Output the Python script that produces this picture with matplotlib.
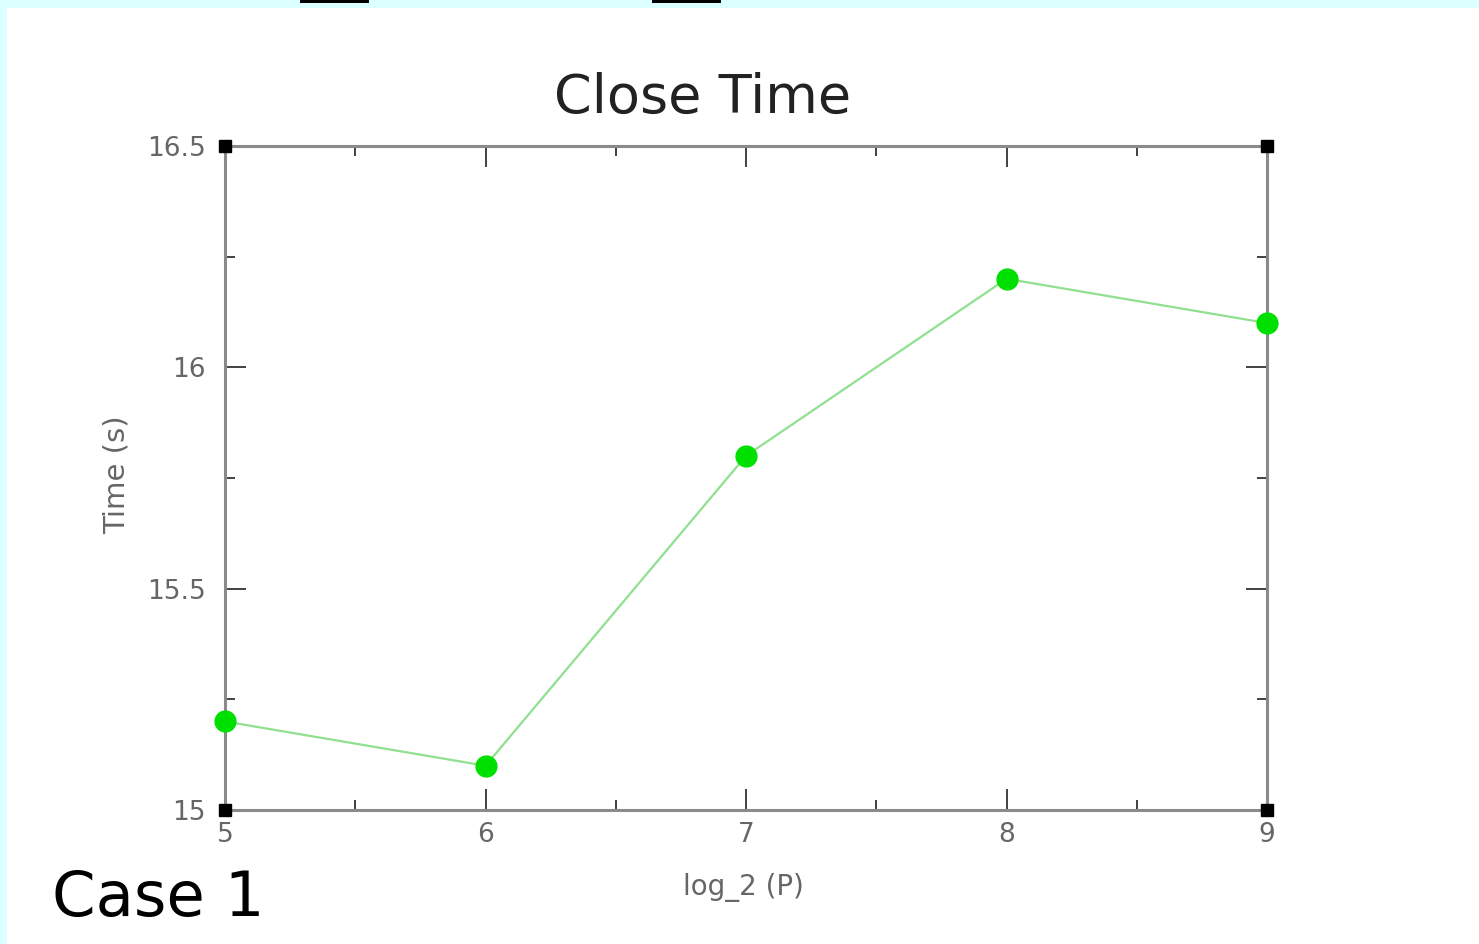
import matplotlib
matplotlib.use("Agg")
import matplotlib.pyplot as plt
from matplotlib.patches import Rectangle
from matplotlib.ticker import MultipleLocator

# Data: close time versus log2 of process count
log2_p = [5, 6, 7, 8, 9]
close_time = [15.2, 15.1, 15.8, 16.2, 16.1]

x_ticks = [5, 6, 7, 8, 9]
y_ticks = [15, 15.5, 16, 16.5]
y_tick_labels = ["15", "15.5", "16", "16.5"]

W, H = 1479, 944
fig = plt.figure(figsize=(W / 100, H / 100), dpi=100)
fig.patch.set_facecolor("#dcffff")

# White slide panel on the cyan frame
fig.patches.append(Rectangle((7 / W, 0), 1, 1 - 8 / H, transform=fig.transFigure,
                             facecolor="white", edgecolor="none", zorder=-2))
# Small black bars along the top edge
for x0, x1 in [(300, 369), (652, 721)]:
    fig.patches.append(Rectangle((x0 / W, 1 - 3 / H), (x1 - x0) / W, 3 / H,
                                 transform=fig.transFigure, facecolor="black",
                                 edgecolor="none", zorder=-1))

ax = fig.add_axes([225 / W, 1 - 810 / H, (1267 - 225) / W, (810 - 146) / H])
ax.set_facecolor("white")

ax.plot(log2_p, close_time, color="#8fe08f", linewidth=1.6, zorder=3, clip_on=False)
ax.plot(log2_p, close_time, linestyle="none", marker="o", markersize=15,
        markerfacecolor="#00e000", markeredgecolor="#00e000", zorder=4, clip_on=False)

ax.set_xlim(5, 9)
ax.set_ylim(15, 16.5)
ax.set_xticks(x_ticks)
ax.set_xticklabels([str(v) for v in x_ticks])
ax.set_yticks(y_ticks)
ax.set_yticklabels(y_tick_labels)
ax.xaxis.set_minor_locator(MultipleLocator(0.5))
ax.yaxis.set_minor_locator(MultipleLocator(0.25))

for side in ax.spines.values():
    side.set_color("#8a8a8a")
    side.set_linewidth(2.2)

ax.tick_params(which="both", direction="in", top=True, right=True, color="#333333",
               width=1.3, labelcolor="#666666", labelsize=19)
ax.tick_params(which="major", length=15)
ax.tick_params(which="minor", length=7)
ax.tick_params(axis="y", which="major", pad=14)
ax.tick_params(axis="x", which="major", pad=9)

# Black corner squares on the frame
for cx, cy in [(0, 0), (0, 1), (1, 0), (1, 1)]:
    ax.plot(cx, cy, marker="s", markersize=9, color="black", transform=ax.transAxes,
            clip_on=False, zorder=5)

fig.text(703 / W, 1 - 98 / H, "Close Time", ha="center", va="center",
         fontsize=39, color="#222222")
fig.text(117 / W, 1 - 475 / H, "Time (s)", ha="center", va="center", rotation=90,
         fontsize=21, color="#666666")
fig.text(743 / W, 1 - 887 / H, "log_2 (P)", ha="center", va="center",
         fontsize=20, color="#666666")
fig.text(52 / W, 1 - 916 / H, "Case 1", ha="left", va="baseline",
         fontsize=45, color="black")

fig.savefig("out.png", dpi=100, facecolor=fig.get_facecolor())
